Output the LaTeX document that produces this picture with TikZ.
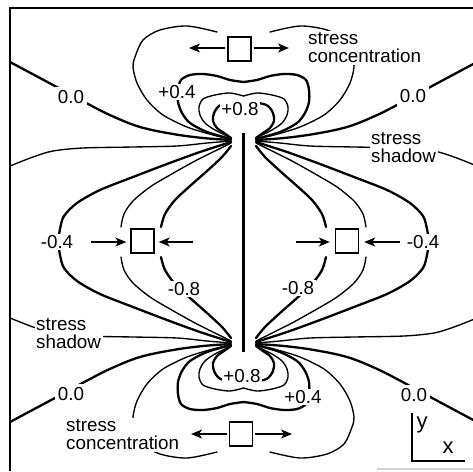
\documentclass[tikz,border=0pt]{standalone}
\usepackage{fontspec}
\setmainfont{Liberation Sans}
\usetikzlibrary{arrows.meta}
\newcommand\quadcontours{%
  % 0.0 contour
  \draw[thk] plot[smooth,tension=0.6] coordinates {(10,62) (53,85) (90,105) (112,116) (140,127) (173,134) (203,138) (231,140)};
  % -0.2 contour
  \draw[thn] plot[smooth] coordinates {(10,166) (33,157) (53,151) (83,148) (133,147) (177,146) (207,143) (231,141)};
  % -0.4 contour
  \draw[thk] plot[smooth] coordinates {(58,242) (60,229) (64,216) (77,203) (100,190) (133,177) (167,164) (200,152) (231,142)};
  % -0.6 contour
  \draw[thn] plot[smooth] coordinates {(121,227) (124,214) (133,201) (150,187) (170,175) (195,161) (217,150) (231,143)};
  % -0.8 contour
  \draw[thk] plot[smooth] coordinates {(161,227) (165,214) (175,200) (190,186) (207,171) (222,157) (231,146)};
  % +0.2 contour
  \draw[thn] plot[smooth] coordinates {(217,32) (187,26) (160,30) (143,40) (135,57) (133,67) (137,83) (147,100) (163,115) (187,127) (213,135) (231,139)};
  % +0.4 contour
  \draw[thk] plot[smooth] coordinates {(243.5,82) (230,80) (217,76) (203,74) (190,75) (181,80) (178,90) (178,102) (182,113) (190,123) (207,132) (231,139)};
  % +0.6 contour
  \draw[thn] plot[smooth] coordinates {(243.5,96) (230,93) (215,95) (203,99) (199,107) (200,115) (205,123) (215,130) (231,138)};
  % +0.8 contour
  \draw[thk] plot[smooth] coordinates {(243.5,103) (228,103) (219,106) (214,113) (213,121) (217,128) (224,133) (231,138)};
}
\begin{document}
\begin{tikzpicture}[x=1pt,y=-1pt,
  thk/.style={line width=2.3pt, line cap=round, line join=round},
  thn/.style={line width=1.35pt, line cap=round, line join=round},
  lbl/.style={fill=white, inner sep=1.5pt, font=\fontsize{18.8}{18.8}\selectfont},
  zlbl/.style={lbl, inner sep=3pt},
  txt/.style={fill=white, inner sep=1.5pt, align=left, anchor=west, font=\fontsize{18.8}{18}\selectfont},
  axl/.style={inner sep=0pt, font=\fontsize{22}{22}\selectfont},
  box/.style={draw, line width=1.4pt, minimum width=23pt, minimum height=24pt, inner sep=0pt},
  arr/.style={line width=1.3pt, -{Stealth[length=11pt,width=9pt,inset=3pt]}},
]
\useasboundingbox (0,0) rectangle (473,471);
% frame
\draw[line width=1.5pt] (10,471) -- (10,8) -- (473,8);
\draw[line width=1.5pt, gray!35] (377,469) -- (473,469);
% contours, four mirrored quadrants
\quadcontours
\begin{scope}[shift={(487,0)}, xscale=-1]\quadcontours\end{scope}
\begin{scope}[shift={(0,484)}, yscale=-1]\quadcontours\end{scope}
\begin{scope}[shift={(487,484)}, xscale=-1, yscale=-1]\quadcontours\end{scope}
% crack
\draw[line width=3pt] (243,133) -- (243,352);
% labels on contours
\node[zlbl] (z1) at (71,97) {0.0};
\node[zlbl] (z2) at (413,96) {0.0};
\node[zlbl] (z3) at (71,394) {0.0};
\node[zlbl] (z4) at (414,395) {0.0};
\node[lbl] (p4a) at (177,92) {+0.4};
\node[lbl] (p4b) at (303,397) {+0.4};
\node[lbl, inner sep=1pt] (p8a) at (240,109) {+0.8};
\node[lbl, inner sep=1pt] (p8b) at (242,376) {+0.8};
\node[lbl] (m4a) at (57,242) {-0.4};
\node[lbl] (m4b) at (423,242) {-0.4};
\node[lbl] (m8a) at (184,289) {-0.8};
\node[lbl] (m8b) at (298,288) {-0.8};
\node[txt] (sc1) at (306.5,48) {stress\\concentration};
\node[txt] (ss1) at (369.5,148) {stress\\shadow};
\node[txt] (ss2) at (34.5,334) {stress\\shadow};
\node[txt] (sc2) at (64.5,435) {stress\\concentration};
% boxes and arrows
\node[box] (bt) at (239.5,49) {};
\node[box] (bb) at (241,434) {};
\node[box] (bl) at (142.5,241) {};
\node[box] (br) at (347,241) {};
\coordinate (btl) at (189,48);
\coordinate (btr) at (289,48);
\coordinate (bbl) at (191,434);
\coordinate (bbr) at (292,434);
\coordinate (bll) at (91,242);
\coordinate (blr) at (193,242);
\coordinate (brl) at (296,242);
\coordinate (brr) at (400,242);
\draw[arr, shorten <=2pt] (bt.west |- btl) -- (btl);
\draw[arr, shorten <=2pt] (bt.east |- btr) -- (btr);
\draw[arr, shorten <=2pt] (bb.west |- bbl) -- (bbl);
\draw[arr, shorten <=2pt] (bb.east |- bbr) -- (bbr);
\draw[arr, shorten >=4pt] (bll) -- (bl.west |- bll);
\draw[arr, shorten >=4pt] (blr) -- (bl.east |- blr);
\draw[arr, shorten >=5pt] (brl) -- (br.west |- brl);
\draw[arr, shorten >=5pt] (brr) -- (br.east |- brr);
% axes
\coordinate (ax0) at (412,461);
\coordinate (axy) at (412,413);
\coordinate (axx) at (465,461);
\draw[line width=1.2pt] (axy) -- (ax0) -- (axx);
\node[axl, anchor=base] (ly) at (422,428) {y};
\node[axl, anchor=base] (lx) at (448,453) {x};
\end{tikzpicture}
\end{document}
